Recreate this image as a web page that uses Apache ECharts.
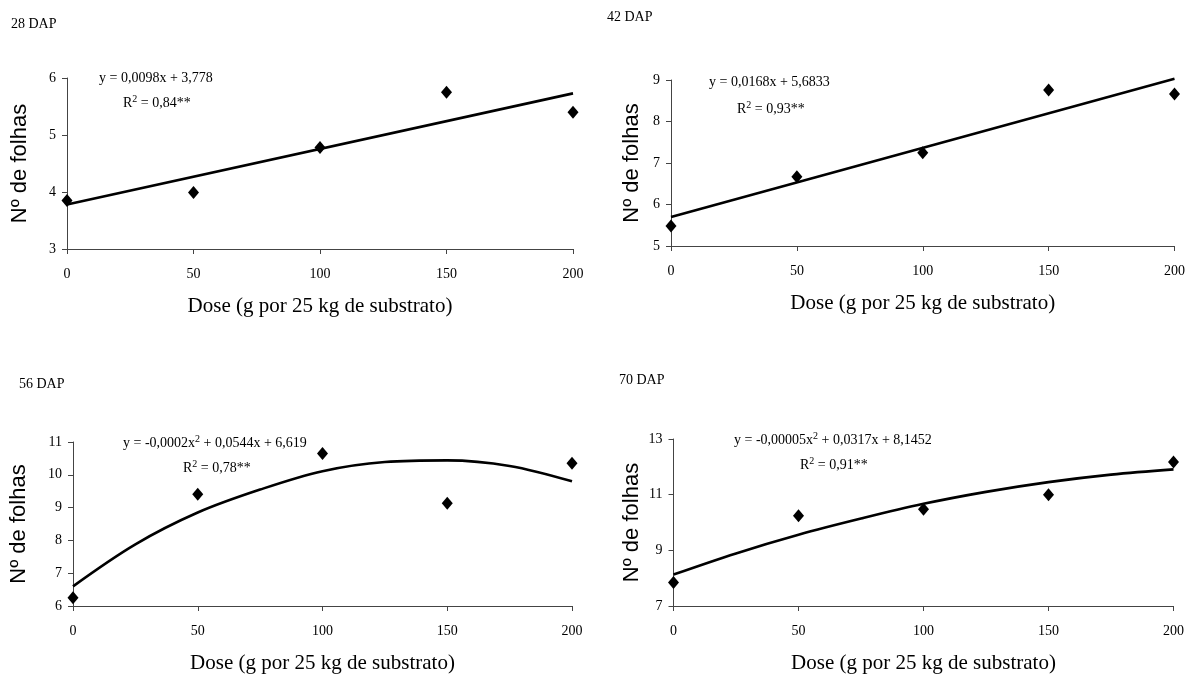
<!DOCTYPE html>
<html>
<head>
    <title>Nº de folhas</title>
    <meta charset="utf-8">
</head>
<body style="margin: 0">
<div id="container" style="width: 1188px; height: 676px"></div>
<script type="text/javascript" src="https://cdn.jsdelivr.net/npm/echarts@6.0.0/dist/echarts.min.js"></script>
<script type="text/javascript">
// doses (g por 25 kg de substrato)
var doses = [0, 50, 100, 150, 200];
var xTicks = [0, 50, 100, 150, 200];

var folhas28 = [3.85, 3.99, 4.78, 5.75, 5.40];
var folhas42 = [5.48, 6.67, 7.25, 8.76, 8.66];
var folhas56 = [6.25, 9.41, 10.65, 9.13, 10.35];
var folhas70 = [7.84, 10.24, 10.48, 11.00, 12.17];

// fitted lines
var fitX_lin = [0, 200];
var fit28 = [3.78, 5.73];
var fit42 = [5.70, 9.03];
var fitX_quad = [0, 25, 50, 75, 100, 125, 150, 175, 200];
var fit56 = [6.60, 7.88, 8.85, 9.55, 10.11, 10.39, 10.44, 10.27, 9.80];
var fit70 = [8.13, 8.89, 9.56, 10.14, 10.67, 11.10, 11.45, 11.72, 11.91];

// y axis ranges
var yMin = [3, 5, 6, 7];
var yMax = [6, 9, 11, 13];
var yStep = [1, 1, 1, 2];

var titles = ['28 DAP', '42 DAP', '56 DAP', '70 DAP'];
var eqs = [
    '{t|y = 0,0098x + 3,778}',
    '{t|y = 0,0168x + 5,6833}',
    '{t|y = -0,0002x}{s|2}{t| + 0,0544x + 6,619}',
    '{t|y = -0,00005x}{s|2}{t| + 0,0317x + 8,1452}'
];
var r2 = ['0,84**', '0,93**', '0,78**', '0,91**'];

var serif = 'Liberation Serif';

function pair(xs, ys) {
    var out = [];
    for (var i = 0; i < xs.length; i++) out.push([xs[i], ys[i]]);
    return out;
}

var grids = [
    {left: 67, top: 78, width: 506, height: 171},
    {left: 671, top: 80, width: 505, height: 166},
    {left: 73, top: 442, width: 499, height: 164},
    {left: 673.5, top: 439, width: 500, height: 167}
];
var nameGaps = [36, 28, 43, 31];

var xAxes = [], yAxes = [], series = [];
var obs = [folhas28, folhas42, folhas56, folhas70];
var fits = [pair(fitX_lin, fit28), pair(fitX_lin, fit42), pair(fitX_quad, fit56), pair(fitX_quad, fit70)];

for (var k = 0; k < 4; k++) {
    xAxes.push({
        gridIndex: k, type: 'value', min: xTicks[0], max: xTicks[xTicks.length - 1], interval: 50,
        name: 'Dose (g por 25 kg de substrato)', nameLocation: 'middle', nameGap: 47,
        nameTextStyle: {fontFamily: serif, fontSize: 21, color: '#000'},
        axisLine: {lineStyle: {color: '#444', width: 1}},
        axisTick: {show: true, inside: false, length: 5, lineStyle: {color: '#444'}},
        axisLabel: {fontFamily: serif, fontSize: 14, color: '#000', margin: 18},
        splitLine: {show: false}
    });
    yAxes.push({
        gridIndex: k, type: 'value', min: yMin[k], max: yMax[k], interval: yStep[k],
        name: 'Nº de folhas', nameLocation: 'middle', nameGap: nameGaps[k],
        nameTextStyle: {fontFamily: 'Liberation Sans', fontSize: 22, color: '#000'},
        axisLine: {show: true, lineStyle: {color: '#444', width: 1}},
        axisTick: {show: true, inside: false, length: 5, lineStyle: {color: '#444'}},
        axisLabel: {fontFamily: serif, fontSize: 14, color: '#000', margin: 11},
        splitLine: {show: false}
    });
    series.push({
        type: 'line', xAxisIndex: k, yAxisIndex: k,
        data: fits[k], smooth: k >= 2 ? 0.35 : false, showSymbol: false, symbol: 'none', clip: false,
        lineStyle: {color: '#000', width: 2.6}, silent: true, z: 2
    });
    series.push({
        type: 'scatter', xAxisIndex: k, yAxisIndex: k,
        data: pair(doses, obs[k]), symbol: 'diamond', symbolSize: [11, 13],
        itemStyle: {color: '#000', opacity: 1}, z: 3
    });
}

// text positions
var titlePos = [[11, 25], [607, 18], [19, 385], [619, 381]];
var eqPos = [[99, 80], [709, 84], [123, 443], [734, 440]];
var r2Pos = [[123, 103], [737, 109], [183, 468], [800, 465]];

var graphics = [];
for (var k = 0; k < 4; k++) {
    graphics.push({
        type: 'text', left: titlePos[k][0], top: titlePos[k][1] - 8,
        style: {text: titles[k], font: '14px ' + serif, fill: '#000'}
    });
    graphics.push({
        type: 'text', left: eqPos[k][0], top: eqPos[k][1] - 9,
        style: {
            text: eqs[k], fill: '#000',
            rich: {
                t: {fontFamily: serif, fontSize: 14, color: '#000', lineHeight: 18},
                s: {fontFamily: serif, fontSize: 10, color: '#000', padding: [0, 0, 9, 0], lineHeight: 18}
            }
        }
    });
    graphics.push({
        type: 'text', left: r2Pos[k][0], top: r2Pos[k][1] - 9,
        style: {
            text: '{t|R}{s|2}{t| = ' + r2[k] + '}', fill: '#000',
            rich: {
                t: {fontFamily: serif, fontSize: 14, color: '#000', lineHeight: 18},
                s: {fontFamily: serif, fontSize: 10, color: '#000', padding: [0, 0, 9, 0], lineHeight: 18}
            }
        }
    });
}

var myChart = echarts.init(document.getElementById('container'));
var option = {
    backgroundColor: '#fff',
    animation: false,
    grid: grids,
    xAxis: xAxes,
    yAxis: yAxes,
    series: series,
    graphic: graphics
};
myChart.setOption(option);
</script>
</body>
</html>
